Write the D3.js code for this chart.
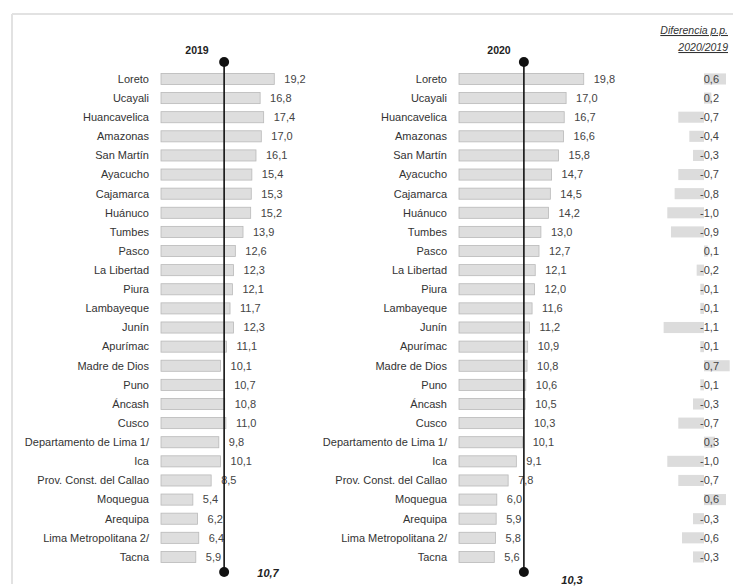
<!DOCTYPE html>
<html><head><meta charset="utf-8">
<script src="https://cdn.jsdelivr.net/npm/d3@7"></script>
<style>
html,body{margin:0;padding:0;background:#fff;}
svg{display:block;font-family:"Liberation Sans",Arial,sans-serif;}
</style></head>
<body><svg id="chart" width="733" height="587"></svg>
<script>
const categories = ["Loreto","Ucayali","Huancavelica","Amazonas","San Martín","Ayacucho","Cajamarca","Huánuco","Tumbes","Pasco","La Libertad","Piura","Lambayeque","Junín","Apurímac","Madre de Dios","Puno","Áncash","Cusco","Departamento de Lima 1/","Ica","Prov. Const. del Callao","Moquegua","Arequipa","Lima Metropolitana 2/","Tacna"];
const values2019 = [19.2,16.8,17.4,17.0,16.1,15.4,15.3,15.2,13.9,12.6,12.3,12.1,11.7,12.3,11.1,10.1,10.7,10.8,11.0,9.8,10.1,8.5,5.4,6.2,6.4,5.9];
const values2020 = [19.8,17.0,16.7,16.6,15.8,14.7,14.5,14.2,13.0,12.7,12.1,12.0,11.6,11.2,10.9,10.8,10.6,10.5,10.3,10.1,9.1,7.8,6.0,5.9,5.8,5.6];
const diffs = [0.6,0.2,-0.7,-0.4,-0.3,-0.7,-0.8,-1.0,-0.9,0.1,-0.2,-0.1,-0.1,-1.1,-0.1,0.7,-0.1,-0.3,-0.7,0.3,-1.0,-0.7,0.6,-0.3,-0.6,-0.3];
const panelTitles = ["2019","2020"];
const means = [10.7, 10.3];
const diffHeader = ["Diferencia p.p.","2020/2019"];

const svg = d3.select("#chart");
const fmt = v => d3.format(".1f")(v).replace(".", ",").replace("\u2212", "-");

// frame
svg.append("line").attr("x1",12).attr("x2",733).attr("y1",14).attr("y2",14).attr("stroke","#e2e2e2").attr("stroke-width",2);
svg.append("line").attr("x1",12).attr("x2",12).attr("y1",14).attr("y2",584).attr("stroke","#e2e2e2").attr("stroke-width",2);

const y = d3.scaleBand().domain(categories).range([69.4, 566.5]).paddingInner(0.42).paddingOuter(0.21);

const panels = [
  {title: panelTitles[0], vals: values2019, mean: means[0], x0: 161, k: 5.9, labelRight: 149, titleX: 197, meanX: 268, meanY: 577},
  {title: panelTitles[1], vals: values2020, mean: means[1], x0: 459, k: 6.3, labelRight: 447, titleX: 499, meanX: 572, meanY: 584}
];

panels.forEach(p => {
  const x = d3.scaleLinear().domain([0, 20]).range([p.x0, p.x0 + 20 * p.k]);
  const g = svg.append("g");
  g.selectAll("rect.bar").data(categories).join("rect")
    .attr("x", x(0)).attr("y", d => y(d))
    .attr("width", (d,i) => x(p.vals[i]) - x(0)).attr("height", y.bandwidth())
    .attr("fill", "#dedede").attr("stroke", "#b9b9b9").attr("stroke-width", 0.8);
  g.selectAll("text.cat").data(categories).join("text")
    .attr("x", p.labelRight).attr("y", d => y(d) + y.bandwidth()/2).attr("dy","0.35em")
    .attr("text-anchor","end").attr("font-size", 11).attr("fill","#333").text(d => d);
  g.selectAll("text.val").data(categories).join("text")
    .attr("x", (d,i) => x(p.vals[i]) + 10).attr("y", d => y(d) + y.bandwidth()/2).attr("dy","0.35em")
    .attr("font-size", 11).attr("fill","#444").text((d,i) => fmt(p.vals[i]));
  const mx = x(p.mean);
  g.append("line").attr("x1", mx).attr("x2", mx).attr("y1", 62).attr("y2", 572).attr("stroke","#111").attr("stroke-width",1.6);
  g.append("circle").attr("cx", mx).attr("cy", 62).attr("r", 5).attr("fill","#111");
  g.append("circle").attr("cx", mx).attr("cy", 572).attr("r", 5).attr("fill","#111");
  g.append("text").attr("x", p.titleX).attr("y", 54).attr("text-anchor","middle")
    .attr("font-size", 10.5).attr("font-weight","bold").attr("fill","#222").text(p.title);
  g.append("text").attr("x", p.meanX).attr("y", p.meanY).attr("text-anchor","middle")
    .attr("font-size", 11).attr("font-weight","bold").attr("font-style","italic").attr("fill","#222").text(fmt(p.mean));
});

// difference column
const xd = d3.scaleLinear().domain([-1.1, 0.7]).range([704 - 1.1*36.7, 704 + 0.7*36.7]);
const gd = svg.append("g");
gd.selectAll("rect").data(categories).join("rect")
  .attr("x", (d,i) => Math.min(xd(0), xd(diffs[i]))).attr("y", d => y(d))
  .attr("width", (d,i) => Math.abs(xd(diffs[i]) - xd(0))).attr("height", y.bandwidth())
  .attr("fill", "#dcdcdc");
gd.selectAll("text").data(categories).join("text")
  .attr("x", 719).attr("y", d => y(d) + y.bandwidth()/2).attr("dy","0.35em")
  .attr("text-anchor","end").attr("font-size", 11).attr("fill","#444").text((d,i) => fmt(diffs[i]));
diffHeader.forEach((t,i) => {
  svg.append("text").attr("x", 728).attr("y", 34 + i*17).attr("text-anchor","end")
    .attr("font-size", 10.5).attr("font-style","italic").attr("text-decoration","underline")
    .attr("fill","#333").text(t);
});
</script></body></html>
